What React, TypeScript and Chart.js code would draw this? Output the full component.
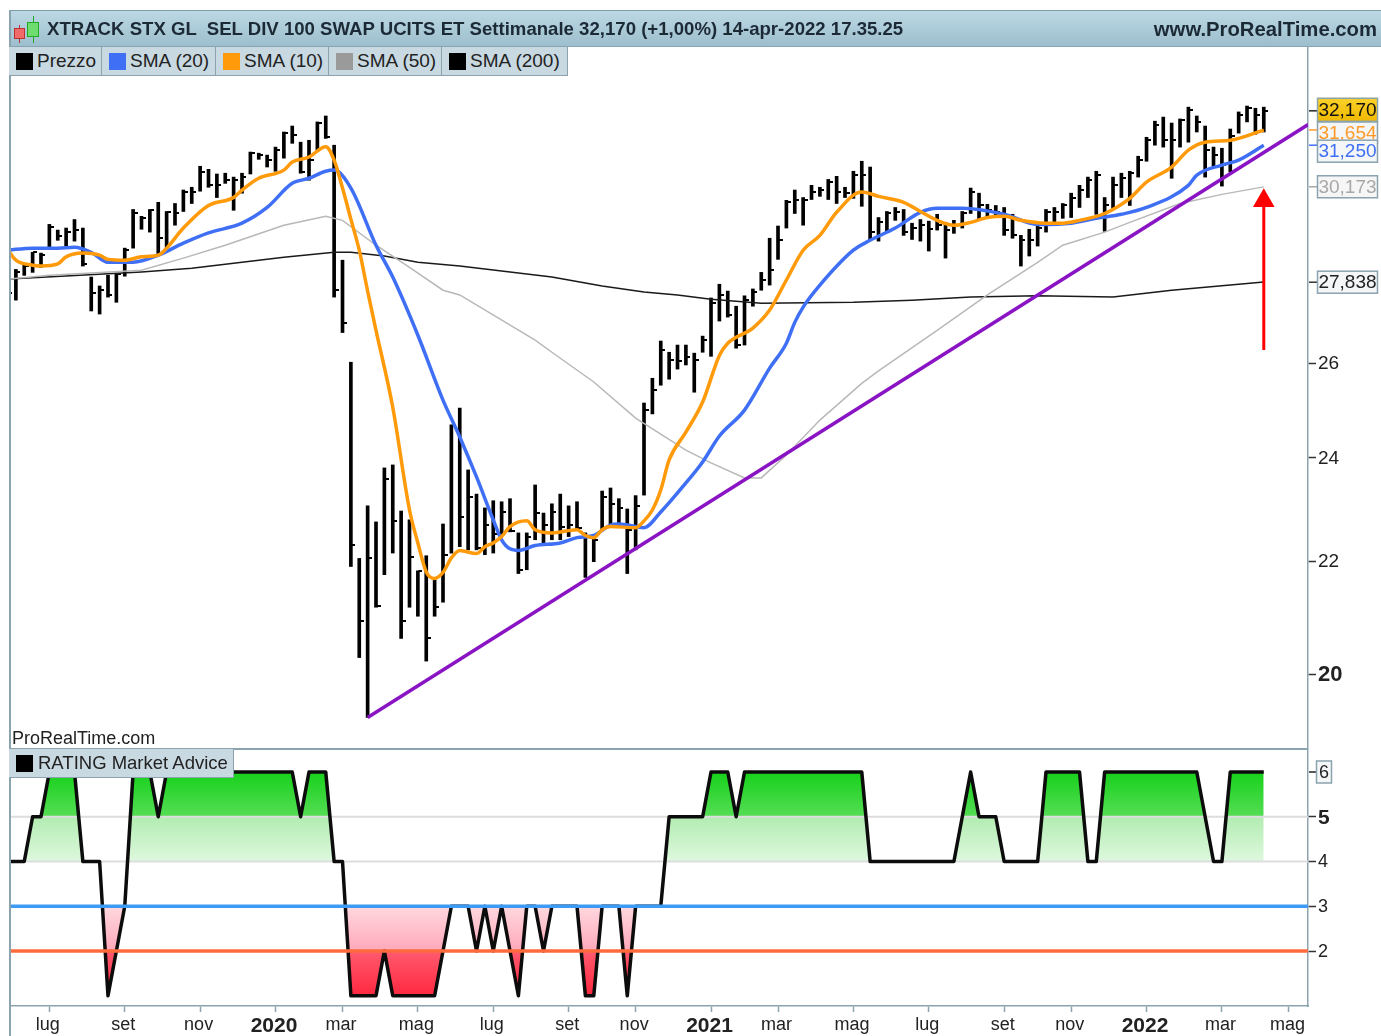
import React, { useEffect, useRef } from "react";
import { Chart, registerables } from "chart.js";

Chart.register(...registerables);

const FONT = '"Liberation Sans", Arial, sans-serif';

const titleText = "XTRACK STX GL  SEL DIV 100 SWAP UCITS ET Settimanale 32,170 (+1,00%) 14-apr-2022 17.35.25";
const siteText = "www.ProRealTime.com";
const watermark = "ProRealTime.com";
const legendNames = ["Prezzo", "SMA (20)", "SMA (10)", "SMA (50)", "SMA (200)"];
const legendColors = ["#000000", "#3f6ff5", "#ff9a0a", "#9a9a9a", "#000000"];
const ratingName = "RATING Market Advice";

const firstWeek = -5;
const barHigh = [27.9,28.14,28.24,28.55,28.53,29.23,29.09,29.14,29.35,29.14,27.96,27.75,28.0,28.05,28.65,29.6,29.43,29.6,29.78,29.55,29.75,30.09,30.16,30.7,30.62,30.5,30.52,30.42,30.52,31.07,31.04,30.99,31.2,31.6,31.76,31.33,31.38,31.87,32.03,31.25,28.36,26.02,22.05,23.05,22.74,23.8,23.86,22.95,22.78,21.82,22.1,21.7,22.7,24.68,25.03,23.76,23.28,23.01,23.15,23.13,23.19,22.53,22.53,23.46,22.91,23.09,23.28,23.05,23.13,22.53,22.44,23.34,23.4,23.19,22.99,23.25,25.14,25.67,26.49,26.24,26.4,26.4,26.22,26.6,27.47,27.79,27.63,27.28,27.52,27.68,28.07,28.89,29.19,29.83,30.09,29.9,30.21,30.16,30.36,30.44,30.16,30.57,30.83,30.68,29.4,29.55,29.65,29.6,29.26,29.35,29.31,29.48,29.28,29.33,29.55,30.14,30.01,29.73,29.7,29.65,29.48,28.96,29.11,29.21,29.6,29.65,29.75,30.01,30.21,30.42,30.57,29.9,30.42,30.52,30.57,30.96,31.46,31.89,32.0,31.84,31.95,32.27,32.03,31.76,31.2,31.17,31.68,32.14,32.3,32.24,32.27];
const barLow = [27.3,27.42,28.0,28.07,28.19,28.65,28.84,28.67,28.82,28.22,27.17,27.1,27.49,27.37,27.98,28.65,29.11,29.04,28.48,28.67,29.21,29.55,29.75,30.06,30.16,29.9,30.26,29.58,30.01,30.5,30.88,30.68,30.57,30.91,31.3,30.52,30.34,31.12,31.43,27.49,26.68,21.9,20.28,19.28,21.16,21.75,22.15,20.61,21.16,21.0,20.22,21.0,21.25,22.15,22.27,22.21,22.21,22.12,22.15,22.5,22.55,21.77,21.84,22.4,22.32,22.4,22.4,22.46,22.59,21.7,21.99,22.59,22.63,22.65,21.77,22.21,23.26,24.91,25.52,25.65,25.87,25.96,25.37,26.24,26.15,26.94,27.03,26.33,26.4,27.28,27.65,27.77,28.38,29.14,29.5,29.21,29.85,29.93,29.85,29.75,29.9,29.88,29.68,28.84,28.82,29.04,29.33,28.96,28.86,28.82,28.58,29.09,28.41,29.01,29.14,29.5,29.35,29.4,29.4,28.96,28.89,28.22,28.46,28.7,29.04,29.21,29.38,29.4,29.65,29.9,29.48,29.06,29.63,29.9,29.7,30.42,30.83,31.25,31.2,30.39,31.2,31.33,31.6,30.42,30.68,30.19,30.55,31.57,31.87,31.54,31.6];
const barClose = [27.58,28.07,28.22,28.55,28.48,29.16,28.94,29.04,29.09,28.27,27.58,27.65,27.54,28.03,28.6,29.5,29.4,29.58,28.89,29.53,29.5,30.04,30.04,30.55,30.21,30.21,30.34,30.34,30.42,31.04,30.99,30.86,31.12,31.57,31.52,30.55,30.86,31.84,31.46,27.65,26.89,22.31,20.91,22.06,21.19,23.58,22.76,20.91,22.08,21.82,20.61,21.16,22.12,24.68,22.84,23.22,22.25,22.68,22.51,22.93,22.57,21.84,22.46,22.91,22.68,22.93,22.65,22.68,22.63,21.68,22.4,23.22,23.09,23.01,22.59,23.05,24.99,25.41,26.29,26.07,26.04,26.13,26.07,26.51,27.35,27.54,27.08,26.4,27.42,27.61,27.89,28.12,28.84,29.78,29.83,29.83,30.04,30.09,30.29,30.04,30.01,30.47,30.47,29.04,29.28,29.5,29.53,29.04,29.14,29.21,29.11,29.21,29.09,29.21,29.5,30.04,29.7,29.58,29.53,29.09,28.96,28.84,28.84,29.14,29.53,29.53,29.7,29.88,30.09,30.34,30.47,29.7,30.21,30.39,30.52,30.86,31.38,31.79,31.38,31.38,31.92,32.19,31.87,31.12,30.99,30.73,31.49,32.05,32.24,32.05,32.17];

const sma10Weeks = [-5,-4,-2,-1,1,2,4,6,7,9,11,13,14,16,19,22,23,25,28,29,31,33,34,35,36,37,38,39,41,43,44,45,46,47,48,49,51,52,53,54,55,57,58,60,63,64,65,66,67,70,71,72,73,74,76,78,80,81,84,86,88,90,92,94,97,99,102,104,106,108,110,112,114,116,119,121,123,126,129,131,134,136,138,141,145];
const sma10Values = [28.62,28.36,28.24,28.22,28.27,28.44,28.53,28.48,28.38,28.36,28.44,28.48,28.65,29.14,29.7,29.9,30.09,30.39,30.6,30.81,30.94,31.21,30.86,30.14,29.36,28.6,27.63,26.73,25.05,22.97,22.34,21.8,21.68,21.79,22.06,22.2,22.14,22.27,22.34,22.46,22.65,22.76,22.59,22.53,22.59,22.48,22.44,22.59,22.65,22.63,22.76,22.97,23.36,23.96,24.53,25.16,26.17,26.44,26.78,27.19,27.89,28.6,28.96,29.53,30.04,29.93,29.78,29.55,29.33,29.21,29.28,29.4,29.43,29.33,29.26,29.26,29.33,29.5,29.88,30.29,30.68,31.12,31.33,31.38,31.65];
const sma20Weeks = [-5,-2,1,3,5,7,10,13,16,19,23,26,29,31,33,34,36,39,41,44,47,49,51,53,54,55,56,58,61,63,65,67,68,71,73,76,78,80,83,86,88,89,90,92,96,98,101,104,106,109,114,118,122,125,128,131,136,137,140,142,145];
const sma20Values = [28.6,28.65,28.65,28.67,28.55,28.31,28.31,28.48,28.77,29.02,29.26,29.65,30.26,30.39,30.57,30.6,30.14,28.72,27.96,26.62,25.2,24.43,23.62,22.78,22.4,22.23,22.2,22.29,22.34,22.44,22.48,22.68,22.7,22.63,22.93,23.5,23.92,24.45,24.99,25.89,26.44,26.91,27.26,27.77,28.6,28.84,29.14,29.53,29.63,29.63,29.48,29.23,29.26,29.38,29.48,29.65,30.21,30.47,30.73,30.86,31.25];
const sma50Weeks = [-5,0,11,16,21,28,33,35,39,43,47,49,58,60,65,70,76,79,83,85,88,92,97,99,106,112,118,121,126,129,135,140,145];
const sma50Values = [27.91,28.0,28.12,28.41,28.72,29.21,29.43,29.33,28.72,28.19,27.65,27.54,26.51,26.24,25.59,24.82,24.16,23.9,23.6,23.6,24.06,24.78,25.56,25.83,26.73,27.54,28.31,28.72,29.04,29.28,29.75,29.98,30.17];
const sma200Weeks = [-5,11,17,28,34,36,40,44,49,60,66,71,75,79,85,96,103,110,118,127,134,145];
const sma200Values = [27.91,28.08,28.17,28.43,28.55,28.55,28.46,28.31,28.22,27.96,27.75,27.61,27.54,27.44,27.35,27.37,27.42,27.49,27.52,27.49,27.65,27.84];

const trendWeeks = [38, 150.3];
const trendValues = [19.28, 31.8];
const arrowWeeks = [145, 145];
const arrowValues = [26.29, 29.82];

const ratingValues = [4,4,4,5,5,6,6,6,6,4,4,4,1,2,3,6,6,6,5,6,6,6,6,6,6,6,6,6,6,6,6,6,6,6,6,5,6,6,6,4,4,1,1,1,1,2,1,1,1,1,1,1,2,3,3,3,2,3,2,3,2,1,3,3,2,3,3,3,3,1,1,3,3,3,1,3,3,3,3,5,5,5,5,5,6,6,6,5,6,6,6,6,6,6,6,6,6,6,6,6,6,6,6,4,4,4,4,4,4,4,4,4,4,4,5,6,5,5,5,4,4,4,4,4,6,6,6,6,6,4,4,6,6,6,6,6,6,6,6,6,6,6,6,5,4,4,6,6,6,6,6];

const priceTicks = [20, 22, 24, 26];
const ratingTicks = [2, 3, 4, 5];
const monthWeeks = [0,9,18,27,35,44,53,62,70,79,87,96,105,114,122,131,140,148];
const monthLabels = ["lug","set","nov","2020","mar","mag","lug","set","nov","2021","mar","mag","lug","set","nov","2022","mar","mag"];

const priceBoxValues = [27.838, 30.173, 31.654, 31.25, 32.17];
const priceBoxLabels = ["27,838", "30,173", "31,654", "31,250", "32,170"];
const priceBoxText = ["#222222", "#a8a8a8", "#ff9a2a", "#3f6ff5", "#111111"];
const priceBoxTick = ["#333333", "#a8a8a8", "#ff9a2a", "#3f6ff5", "#222222"];
const priceBoxShift = [0, 0, 3, 6, -1];

const X_MIN = -4.82;
const X_MAX = 150.28;
const AXIS = "#8ba3af";

const sparse = (xs: number[], ys: number[]) => xs.map((x, k) => ({ x, y: ys[k] }));

function drawBox(ctx: any, x: number, cy: number, w: number, h: number, fill: any, text: string, color: string, size: number) {
  ctx.save();
  ctx.fillStyle = fill;
  ctx.fillRect(x, cy - h / 2, w, h);
  ctx.strokeStyle = "#8ba3af";
  ctx.lineWidth = 1.5;
  ctx.strokeRect(x + 0.5, cy - h / 2 + 0.5, w - 1, h - 1);
  ctx.fillStyle = color;
  ctx.font = `${size}px ${FONT}`;
  ctx.textAlign = "center";
  ctx.textBaseline = "middle";
  ctx.fillText(text, x + w / 2, cy + 1);
  ctx.restore();
}

const priceBoxPlugin = {
  id: "priceBoxes",
  afterDraw(chart: any) {
    const { ctx, scales } = chart;
    const sc = scales.y;
    const left = chart.chartArea.right;
    priceBoxValues.forEach((v, k) => {
      const y = sc.getPixelForValue(v);
      ctx.save();
      ctx.strokeStyle = priceBoxTick[k];
      ctx.lineWidth = 1.5;
      ctx.beginPath();
      ctx.moveTo(left + 1, y);
      ctx.lineTo(left + 9, y);
      ctx.stroke();
      ctx.restore();
      const cy = y + priceBoxShift[k];
      let fill: any = k === 1 ? "#f6f6f6" : "#f4f6f7";
      if (k === 4) {
        const g = ctx.createLinearGradient(0, cy - 12, 0, cy + 12);
        g.addColorStop(0, "#fbd22a");
        g.addColorStop(1, "#f0b800");
        fill = g;
      }
      drawBox(ctx, left + 9, cy, 61, k === 4 ? 24 : 23, fill, priceBoxLabels[k], priceBoxText[k], 19);
    });
  },
};

const ratingBoxPlugin = {
  id: "ratingBox",
  afterDraw(chart: any) {
    const { ctx, scales } = chart;
    const y = scales.y.getPixelForValue(6);
    const left = chart.chartArea.right;
    ctx.save();
    ctx.strokeStyle = "#222222";
    ctx.lineWidth = 1.5;
    ctx.beginPath();
    ctx.moveTo(left + 1, y);
    ctx.lineTo(left + 8, y);
    ctx.stroke();
    ctx.restore();
    drawBox(ctx, left + 8, y, 16, 23, "#f4f6f7", "6", "#222222", 18);
  },
};

function makeTickImage() {
  const c = document.createElement("canvas");
  c.width = 9;
  c.height = 2;
  const g = c.getContext("2d")!;
  g.fillStyle = "#000";
  g.fillRect(5, 0, 4, 2);
  return c;
}

const zeroPadding = (s: any) => {
  s.paddingTop = 0;
  s.paddingBottom = 0;
  s.paddingLeft = 0;
  s.paddingRight = 0;
};

export default function App() {
  const priceRef = useRef<HTMLCanvasElement>(null);
  const ratingRef = useRef<HTMLCanvasElement>(null);

  useEffect(() => {
    document.body.style.margin = "0";
    const tickImage = makeTickImage();
    const weeks = barHigh.map((_, k) => firstWeek + k);

    const price = new Chart(priceRef.current!, {
      type: "line",
      data: {
        datasets: [
          { label: "Freccia", data: sparse(arrowWeeks, arrowValues), borderColor: "#ff0000", backgroundColor: "#ff0000", borderWidth: 3, pointRadius: [0, 12.5], pointStyle: "triangle", pointBorderWidth: 0 },
          { label: "Trend", data: sparse(trendWeeks, trendValues), borderColor: "#8a14c4", borderWidth: 3.5, pointRadius: 0 },
          { label: "SMA (10)", data: sparse(sma10Weeks, sma10Values), borderColor: "#ff9a0a", borderWidth: 3.5, pointRadius: 0, cubicInterpolationMode: "monotone" },
          { label: "SMA (20)", data: sparse(sma20Weeks, sma20Values), borderColor: "#3f6ff5", borderWidth: 3.5, pointRadius: 0, cubicInterpolationMode: "monotone" },
          { label: "SMA (50)", data: sparse(sma50Weeks, sma50Values), borderColor: "#b8b8b8", borderWidth: 1.5, pointRadius: 0 },
          { label: "SMA (200)", data: sparse(sma200Weeks, sma200Values), borderColor: "#1a1a1a", borderWidth: 1.5, pointRadius: 0 },
          { label: "Chiusura", data: sparse(weeks, barClose), showLine: false, pointStyle: tickImage, pointRadius: 4 },
          { type: "bar", label: "Prezzo", data: weeks.map((x, k) => ({ x, y: [barLow[k], barHigh[k]] })), backgroundColor: "#000000", barThickness: 3, grouped: false },
        ] as any,
      },
      options: {
        animation: false,
        responsive: false,
        events: [],
        layout: { padding: 0, autoPadding: false },
        plugins: { legend: { display: false }, tooltip: { enabled: false } },
        scales: {
          x: { type: "linear", display: false, min: X_MIN, max: X_MAX, offset: false, bounds: "data" },
          y: {
            type: "logarithmic",
            position: "right",
            min: 18.79,
            max: 33.95,
            bounds: "data",
            afterBuildTicks: (s: any) => { s.ticks = priceTicks.map((value) => ({ value })); },
            afterFit: (s: any) => { s.width = 73; zeroPadding(s); },
            grid: { drawOnChartArea: false, drawTicks: true, tickLength: 8, tickColor: "#333333", tickWidth: 1.5 },
            border: { color: AXIS, width: 1.5 },
            ticks: {
              autoSkip: false,
              padding: 2,
              labelOffset: 1,
              color: "#222222",
              callback: (v: any) => String(v),
              font: (c: any) => (c.tick && c.tick.value === 20 ? { family: FONT, size: 22, weight: "bold" } : { family: FONT, size: 19 }),
            },
          },
        },
      } as any,
      plugins: [priceBoxPlugin],
    });

    const rating = new Chart(ratingRef.current!, {
      type: "line",
      data: {
        datasets: [
          { label: "2", data: [{ x: X_MIN, y: 2 }, { x: X_MAX, y: 2 }], borderColor: "#ff6a3c", borderWidth: 3.5, pointRadius: 0 },
          { label: "3", data: [{ x: X_MIN, y: 3 }, { x: X_MAX, y: 3 }], borderColor: "#3d9bf5", borderWidth: 3.5, pointRadius: 0 },
          { label: "RATING", data: sparse(weeks, ratingValues), borderColor: "#0c0c0c", borderWidth: 3.5, pointRadius: 0, borderJoinStyle: "round" },
          { label: "4", data: [{ x: X_MIN, y: 4 }, { x: X_MAX, y: 4 }], borderColor: "#dddddd", borderWidth: 2, pointRadius: 0 },
          { label: "5", data: [{ x: X_MIN, y: 5 }, { x: X_MAX, y: 5 }], borderColor: "#dddddd", borderWidth: 2, pointRadius: 0 },
          { label: "up", data: sparse(weeks, ratingValues), borderWidth: 0, pointRadius: 0, fill: false },
          { label: "down", data: sparse(weeks, ratingValues), borderWidth: 0, pointRadius: 0, fill: false },
        ] as any,
      },
      options: {
        animation: false,
        responsive: false,
        events: [],
        layout: { padding: 0, autoPadding: false },
        plugins: { legend: { display: false }, tooltip: { enabled: false } },
        scales: {
          x: {
            type: "linear",
            position: "bottom",
            min: X_MIN,
            max: X_MAX,
            offset: false,
            bounds: "data",
            afterBuildTicks: (s: any) => { s.ticks = monthWeeks.map((value) => ({ value })); },
            afterFit: (s: any) => { s.height = 30; zeroPadding(s); },
            grid: { drawOnChartArea: false, drawTicks: true, tickLength: 6, tickColor: AXIS, tickWidth: 1.5 },
            border: { color: AXIS, width: 1.5 },
            ticks: {
              autoSkip: false,
              maxRotation: 0,
              minRotation: 0,
              padding: 2,
              labelOffset: -1.5,
              color: "#222222",
              callback: (_v: any, i: number) => monthLabels[i],
              font: (c: any) => (c.index !== undefined && /^\d/.test(monthLabels[c.index] || "") ? { family: FONT, size: 21, weight: "bold" } : { family: FONT, size: 18 }),
            },
          },
          y: {
            type: "linear",
            position: "right",
            min: 0.772,
            max: 6.536,
            bounds: "data",
            afterBuildTicks: (s: any) => { s.ticks = ratingTicks.map((value) => ({ value })); },
            afterFit: (s: any) => { s.width = 73; zeroPadding(s); },
            grid: { drawOnChartArea: false, drawTicks: true, tickLength: 8, tickColor: "#333333", tickWidth: 1.5 },
            border: { color: AXIS, width: 1.5 },
            ticks: {
              autoSkip: false,
              padding: 2,
              labelOffset: 1,
              color: "#222222",
              callback: (v: any) => String(v),
              font: (c: any) => (c.tick && c.tick.value === 5 ? { family: FONT, size: 21, weight: "bold" } : { family: FONT, size: 18 }),
            },
          },
        },
      } as any,
      plugins: [ratingBoxPlugin],
    });

    const sc = rating.scales.y;
    const ctx = rating.ctx;
    const green = ctx.createLinearGradient(0, sc.getPixelForValue(6), 0, sc.getPixelForValue(4));
    green.addColorStop(0, "#17d11b");
    green.addColorStop(0.499, "#55dd55");
    green.addColorStop(0.5, "#b2ecb2");
    green.addColorStop(1, "#def8de");
    const red = ctx.createLinearGradient(0, sc.getPixelForValue(3), 0, sc.getPixelForValue(1));
    red.addColorStop(0, "#ffd8de");
    red.addColorStop(0.499, "#ffa8ba");
    red.addColorStop(0.5, "#ff5a6e");
    red.addColorStop(1, "#ff2840");
    (rating.data.datasets[5] as any).fill = { target: { value: 4 }, above: green, below: "rgba(0,0,0,0)" };
    (rating.data.datasets[6] as any).fill = { target: { value: 3 }, above: "rgba(0,0,0,0)", below: red };
    rating.update();

    return () => {
      price.destroy();
      rating.destroy();
    };
  }, []);

  const abs = (left: number, top: number, width: number, height: number, extra: any = {}) => ({
    position: "absolute" as const, left, top, width, height, boxSizing: "border-box" as const, ...extra,
  });
  const legendLefts = [9, 102, 216, 329, 442];
  const legendWidths = [93, 114, 113, 113, 126];

  return (
    <div style={abs(0, 0, 1381, 1036, { background: "#ffffff", overflow: "hidden", fontFamily: FONT })}>
      <canvas ref={priceRef} width={1372} height={701} style={{ position: "absolute", left: 9, top: 47 }} />
      <canvas ref={ratingRef} width={1372} height={288} style={{ position: "absolute", left: 9, top: 748 }} />

      <div style={abs(9, 10, 1372, 37, { background: "linear-gradient(#bcd8e4, #9dbecd)", borderTop: "1.5px solid #7f9ba8", borderBottom: "1px solid #88a4b2" })} />
      <div style={abs(9, 10, 1.5, 1026, { background: AXIS })} />
      <div style={abs(9, 748, 1299, 1.5, { background: AXIS })} />

      <div style={abs(19, 25, 1, 18, { background: "#b33" })} />
      <div style={abs(14, 28, 11, 11, { background: "#f06a6a", border: "1px solid #b33" })} />
      <div style={abs(33, 16, 1, 27, { background: "#2a2" })} />
      <div style={abs(27, 22, 12, 15, { background: "#6fdc6f", border: "1px solid #2a2" })} />

      <div style={{ position: "absolute", left: 47, top: 18, fontWeight: "bold", fontSize: 18.6, lineHeight: "22px", color: "#1c2a36", whiteSpace: "pre" }}>{titleText}</div>
      <div style={{ position: "absolute", right: 4, top: 18, fontWeight: "bold", fontSize: 20.3, lineHeight: "22px", color: "#1c2a36", whiteSpace: "pre" }}>{siteText}</div>

      {legendNames.map((name, k) => (
        <div key={k} style={abs(legendLefts[k], 47, legendWidths[k], 29, { background: "#c9d9e1", borderRight: "1.5px solid #8ba3af", borderBottom: "1.5px solid #8ba3af" })}>
          <div style={abs(7, 6, 17, 17, { background: legendColors[k] })} />
          <div style={{ position: "absolute", left: 28, top: 3, fontSize: 19, lineHeight: "22px", color: "#222", whiteSpace: "pre" }}>{name}</div>
        </div>
      ))}

      <div style={{ position: "absolute", left: 12, top: 727, fontSize: 18, lineHeight: "22px", color: "#222", whiteSpace: "pre" }}>{watermark}</div>

      <div style={abs(9, 749, 225, 29, { background: "#c9d9e1", borderRight: "1.5px solid #8ba3af", borderBottom: "1.5px solid #8ba3af" })}>
        <div style={abs(7, 6, 17, 17, { background: "#000" })} />
        <div style={{ position: "absolute", left: 29, top: 3, fontSize: 18.5, lineHeight: "22px", color: "#222", whiteSpace: "pre" }}>{ratingName}</div>
      </div>
    </div>
  );
}
